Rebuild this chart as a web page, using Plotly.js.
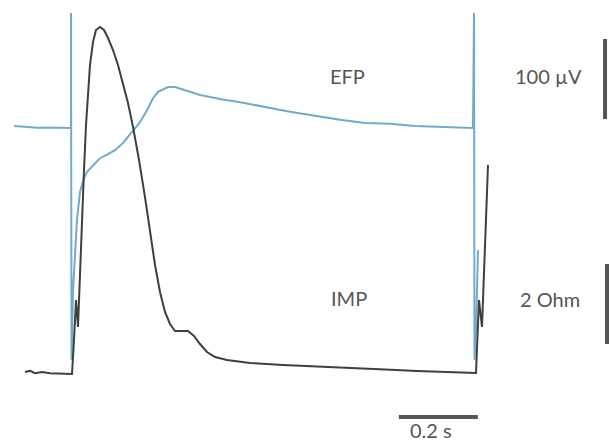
<!DOCTYPE html>
<html>
<head>
<meta charset="utf-8">
<script src="https://cdn.plot.ly/plotly-3.0.1.min.js"></script>
<style>html,body{margin:0;padding:0;background:#fff;}#chart{width:610px;height:443px;}</style>
</head>
<body>
<div id="chart"></div>
<script>
// EFP trace (time in s, extracellular field potential in µV)
var efpTime = [-0.1443,-0.1240,-0.1038,-0.0835,-0.0532,-0.0300,-0.0025,0.0000,0.0000,0.0013,0.0025,0.0051,0.0101,0.0152,0.0228,0.0329,0.0405,0.0557,0.0734,0.0937,0.1114,0.1316,0.1443,0.1570,0.1747,0.1924,0.2076,0.2203,0.2329,0.2456,0.2633,0.2810,0.3013,0.3266,0.3772,0.4278,0.4911,0.5544,0.6177,0.6810,0.7443,0.8076,0.8709,0.9342,0.9848,1.0177,1.0203,1.0215,1.0253,1.0304];
var efpValues = [1.3,0.4,0.0,-0.8,-0.6,-1.0,-1.3,-1.3,142.5,-291,-270,-204,-154,-116,-81,-64,-56,-47.5,-39,-34,-29,-20,-12.5,-4,6,21,36,44,47.5,50,50,47.5,44,40,35,31,25,19,14,9,5,4,1.3,0,-0.6,-1.3,142.5,-291,-254,-154];

// IMP trace (time in s, impedance change in Ohm)
var impTime = [-0.1165,-0.1038,-0.0911,-0.0734,-0.0532,-0.0278,0.0025,0.0076,0.0127,0.0177,0.0228,0.0278,0.0329,0.0380,0.0430,0.0481,0.0557,0.0633,0.0734,0.0835,0.0937,0.1063,0.1190,0.1316,0.1443,0.1570,0.1722,0.1873,0.2000,0.2127,0.2253,0.2380,0.2506,0.2633,0.2810,0.2962,0.3114,0.3266,0.3443,0.3646,0.3949,0.4532,0.5367,0.6304,0.7063,0.7949,0.8759,0.9468,1.0177,1.0253,1.0329,1.0405,1.0557];
var impValues = [0.0,0.03,-0.03,0.0,-0.03,-0.04,-0.05,0.8,1.8,1.125,2.55,3.925,5.05,6.175,7.05,7.675,8.25,8.55,8.625,8.55,8.35,8.05,7.675,7.225,6.725,6.125,5.3,4.375,3.5,2.675,2.0,1.5,1.2,1.025,1.025,1.025,0.9,0.7,0.5,0.375,0.3,0.225,0.175,0.14,0.1,0.06,0.025,0.0,-0.025,-0.025,1.8,1.125,5.175];

// Scale bars
var timeBarX = [0.83, 1.03];          // 0.2 s
var timeBarY = [-362.5, -362.5];      // drawn on EFP axis
var efpBarX = [1.352, 1.352];
var efpBarY = [10, 110];              // 100 µV
var impBarX = [1.357, 1.357];
var impBarY = [0.7, 2.7];             // 2 Ohm

var labels = ["EFP", "IMP", "100 µV", "2 Ohm", "0.2 s"];

var blue = "#72aacb";
var dark = "#3f3f3f";
var barColor = "#555555";

var traces = [
  {x: efpTime, y: efpValues, mode: "lines", line: {color: blue, width: 2}, yaxis: "y", hoverinfo: "skip"},
  {x: impTime, y: impValues, mode: "lines", line: {color: dark, width: 2}, yaxis: "y2", hoverinfo: "skip"},
  {x: timeBarX, y: timeBarY, mode: "lines", line: {color: barColor, width: 4}, yaxis: "y"},
  {x: efpBarX, y: efpBarY, mode: "lines", line: {color: barColor, width: 4}, yaxis: "y"},
  {x: impBarX, y: impBarY, mode: "lines", line: {color: barColor, width: 4}, yaxis: "y2"}
];

var W = 610, H = 443;
function ann(text, px, py) {
  return {text: text, xref: "paper", yref: "paper", x: px / W, y: 1 - py / H,
          xanchor: "center", yanchor: "middle", showarrow: false,
          font: {family: "Lato, 'DejaVu Sans', sans-serif", size: 20, color: "#555555"}};
}
var timeLabel = ann(labels[4], 431, 443);
timeLabel.yanchor = "bottom";
timeLabel.borderpad = 0;

var layout = {
  width: W, height: H,
  margin: {l: 0, r: 0, t: 0, b: 0},
  paper_bgcolor: "#ffffff", plot_bgcolor: "#ffffff",
  showlegend: false,
  xaxis: {range: [-0.17975, 1.36456], visible: false, fixedrange: true},
  yaxis: {range: [-395, 158.75], visible: false, fixedrange: true},
  yaxis2: {range: [-1.775, 9.3], visible: false, overlaying: "y", fixedrange: true},
  annotations: [
    ann(labels[0], 347, 76),
    ann(labels[1], 349, 298),
    ann(labels[2], 548, 76),
    ann(labels[3], 550, 299),
    timeLabel
  ]
};

Plotly.newPlot("chart", traces, layout, {staticPlot: true, displayModeBar: false});
</script>
</body>
</html>
